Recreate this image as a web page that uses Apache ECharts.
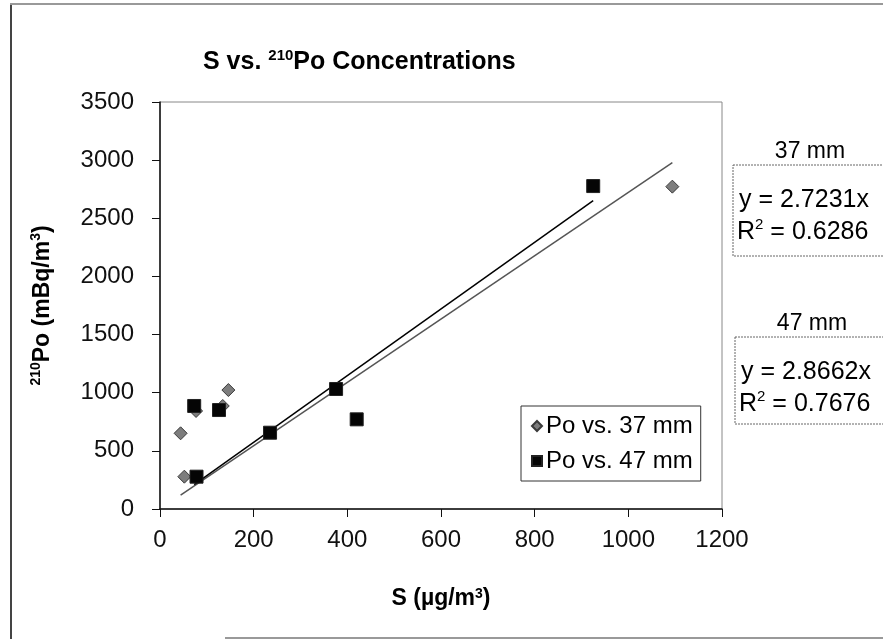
<!DOCTYPE html>
<html>
<head>
<meta charset="utf-8">
<script src="https://cdn.jsdelivr.net/npm/echarts@6/dist/echarts.min.js"></script>
<style>
  html, body { margin: 0; background: #fff; }
  #chart { width: 883px; height: 639px; }
</style>
</head>
<body>
<div id="chart"></div>
<script>
// S (ug/m3) against 210Po (mBq/m3), for two filter sizes
const s37 = [44, 52, 77, 134, 146, 1094];
const po37 = [651, 278, 843, 886, 1023, 2772];
const s47 = [73, 78, 126, 235, 376, 420, 925];
const po47 = [886, 278, 851, 656, 1032, 771, 2777];
const seriesNames = ['Po vs. 37 mm', 'Po vs. 47 mm'];
const fitNames = ['37 mm', '47 mm'];
const slopes = [2.7231, 2.8662];   // trendlines forced through 0
const rSquared = [0.6286, 0.7676];
const xRange = [0, 1200, 200];      // min, max, step
const yRange = [0, 3500, 500];

const FONT = '"Liberation Sans", Arial, sans-serif';

const pairs = (xs, ys) => xs.map((x, i) => [x, ys[i]]);
const trend = (xs, k) => {
  const lo = Math.min(...xs), hi = Math.max(...xs);
  return [[lo, k * lo], [hi, k * hi]];
};

const chart = echarts.init(document.getElementById('chart'));

// rich text pieces for superscripts
const richBold = (size) => ({
  b: { fontFamily: FONT, fontWeight: 'bold', fontSize: size, color: '#000', lineHeight: size + 4 },
  sup: { fontFamily: FONT, fontWeight: 'bold', fontSize: Math.round(size * 0.6), color: '#000', verticalAlign: 'top', lineHeight: Math.round(size * 0.6) }
});
const richPlain = (size) => ({
  n: { fontFamily: FONT, fontSize: size, color: '#000', lineHeight: size + 4 },
  sup: { fontFamily: FONT, fontSize: Math.round(size * 0.6), color: '#000', verticalAlign: 'top', lineHeight: Math.round(size * 0.6) }
});

function fitBox(x, y, w, h, i) {
  return {
    type: 'group',
    children: [
      { type: 'text', x: x + 77, y: y - 13,
        style: { text: fitNames[i], font: '23px ' + FONT, fill: '#000', align: 'center', verticalAlign: 'middle' } },
      { type: 'rect', shape: { x: x, y: y, width: w, height: h },
        style: { fill: '#fff', stroke: '#666', lineWidth: 1, lineDash: [2, 1] } },
      { type: 'text', x: x + 6, y: y + 35,
        style: { text: 'y = ' + slopes[i].toFixed(4) + 'x', font: '25px ' + FONT, fill: '#000', verticalAlign: 'middle' } },
      { type: 'text', x: x + 4, y: y + 67,
        style: { text: '{n|R}{sup|2}{n| = ' + rSquared[i].toFixed(4) + '}', rich: richPlain(25), verticalAlign: 'middle' } }
    ]
  };
}

const option = {
  backgroundColor: '#fff',
  animation: false,
  title: {
    text: '{b|S vs. }{sup|210}{b|Po Concentrations}',
    left: 198,
    top: 43,
    textStyle: { rich: richBold(25) }
  },
  grid: { left: 160, top: 102, right: 161, bottom: 130, show: true, borderColor: '#888', borderWidth: 1 },
  xAxis: {
    type: 'value',
    min: xRange[0], max: xRange[1], interval: xRange[2],
    name: 'S (\u00b5g/m{sup|3})',
    nameLocation: 'middle',
    nameGap: 78,
    nameTextStyle: {
      fontFamily: FONT, fontWeight: 'bold', fontSize: 23, color: '#000',
      rich: richBold(23)
    },
    axisLine: { show: true, lineStyle: { color: '#111', width: 1.5 } },
    axisTick: { show: true, inside: false, length: 8, lineStyle: { color: '#111' } },
    axisLabel: { fontFamily: FONT, fontSize: 24, color: '#111', margin: 19, formatter: (v) => String(v) },
    splitLine: { show: false }
  },
  yAxis: {
    type: 'value',
    min: yRange[0], max: yRange[1], interval: yRange[2],
    name: '{sup|210}{b|Po (mBq/m}{sup|3}{b|)}',
    nameLocation: 'middle',
    nameGap: 104,
    nameRotate: 90,
    nameTextStyle: { rich: richBold(23) },
    axisLine: { show: true, lineStyle: { color: '#111', width: 1.5 } },
    axisTick: { show: true, inside: false, length: 8, lineStyle: { color: '#111' } },
    axisLabel: { fontFamily: FONT, fontSize: 24, color: '#111', margin: 26, formatter: (v) => String(v) },
    splitLine: { show: false }
  },
  legend: {
    orient: 'vertical',
    left: 521,
    top: 406,
    data: [
      { name: seriesNames[0], icon: 'diamond' },
      { name: seriesNames[1], icon: 'rect' }
    ],
    itemWidth: 10,
    itemHeight: 10,
    itemGap: 11,
    padding: [8, 8, 8, 10],
    borderColor: '#333',
    borderWidth: 1,
    backgroundColor: '#fff',
    textStyle: { fontFamily: FONT, fontSize: 24, color: '#000', padding: [0, 0, 0, -1] }
  },
  series: [
    {
      name: seriesNames[0] + ' fit', type: 'line', data: trend(s37, slopes[0]),
      symbol: 'none', silent: true, z: 1,
      lineStyle: { color: '#555', width: 1.5 }
    },
    {
      name: seriesNames[1] + ' fit', type: 'line', data: trend(s47, slopes[1]),
      symbol: 'none', silent: true, z: 1,
      lineStyle: { color: '#000', width: 1.5 }
    },
    {
      name: seriesNames[0], type: 'scatter', data: pairs(s37, po37),
      symbol: 'diamond', symbolSize: 13, z: 3,
      itemStyle: { color: '#7d7d7d', borderColor: '#3a3a3a', borderWidth: 1, opacity: 1 }
    },
    {
      name: seriesNames[1], type: 'scatter', data: pairs(s47, po47),
      symbol: 'rect', symbolSize: 13, z: 4,
      itemStyle: { color: '#050505', borderColor: '#222', borderWidth: 1, opacity: 1 }
    }
  ],
  graphic: [
    // scanned page edges
    { type: 'line', shape: { x1: 11, y1: 4, x2: 11, y2: 639 }, style: { stroke: '#444', lineWidth: 2 } },
    { type: 'line', shape: { x1: 10, y1: 4, x2: 883, y2: 4 }, style: { stroke: '#999', lineWidth: 2 } },
    { type: 'line', shape: { x1: 225, y1: 638, x2: 883, y2: 638 }, style: { stroke: '#999', lineWidth: 2 } },
    fitBox(733, 165, 160, 91, 0),
    fitBox(735, 337, 160, 87, 1)
  ]
};

chart.setOption(option);
</script>
</body>
</html>
